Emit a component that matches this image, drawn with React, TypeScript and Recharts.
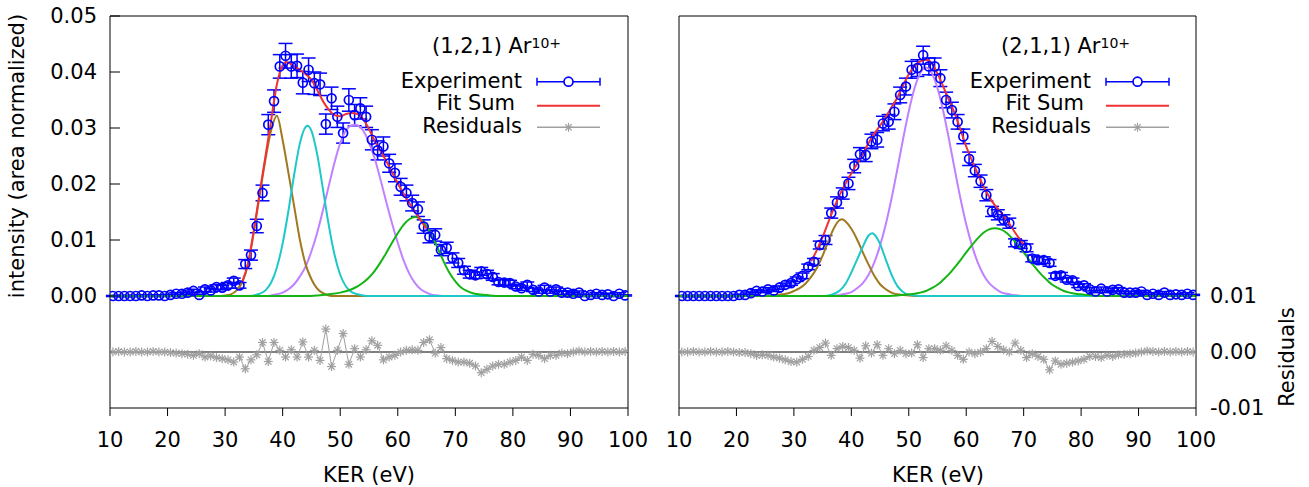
import { ComposedChart, Line, Scatter, ErrorBar, XAxis, YAxis, ReferenceLine } from "recharts";

const FONT = "'DejaVu Sans', sans-serif";

// KER bin centres (eV), shared by both panels
const kerBins = [
  10.5, 11.5, 12.5, 13.5, 14.5, 15.5, 16.5, 17.5, 18.5, 19.5,
  20.5, 21.5, 22.5, 23.5, 24.5, 25.5, 26.5, 27.5, 28.5, 29.5,
  30.5, 31.5, 32.5, 33.5, 34.5, 35.5, 36.5, 37.5, 38.5, 39.5,
  40.5, 41.5, 42.5, 43.5, 44.5, 45.5, 46.5, 47.5, 48.5, 49.5,
  50.5, 51.5, 52.5, 53.5, 54.5, 55.5, 56.5, 57.5, 58.5, 59.5,
  60.5, 61.5, 62.5, 63.5, 64.5, 65.5, 66.5, 67.5, 68.5, 69.5,
  70.5, 71.5, 72.5, 73.5, 74.5, 75.5, 76.5, 77.5, 78.5, 79.5,
  80.5, 81.5, 82.5, 83.5, 84.5, 85.5, 86.5, 87.5, 88.5, 89.5,
  90.5, 91.5, 92.5, 93.5, 94.5, 95.5, 96.5, 97.5, 98.5, 99.5,
];

const xTicks = [10, 20, 30, 40, 50, 60, 70, 80, 90, 100];
const yTicks = [0, 0.01, 0.02, 0.03, 0.04, 0.05];
const resTicks = [-0.01, 0, 0.01];

// ---- (1,2,1) panel ----
const exp121 = [
  0, 0, 0, 0, 0, 0.0001, 0, 0.0001, 0.0001, 0,
  0.0002, 0.0004, 0.0004, 0.0006, 0.0009, 0.0002, 0.0012, 0.001, 0.0016, 0.0015,
  0.0019, 0.0027, 0.0019, 0.0057, 0.0073, 0.0125, 0.0184, 0.0306, 0.0348, 0.041,
  0.0429, 0.041, 0.0411, 0.0381, 0.0404, 0.038, 0.0378, 0.0307, 0.0353, 0.032,
  0.0291, 0.035, 0.0323, 0.0335, 0.032, 0.0279, 0.026, 0.0267, 0.0237, 0.022,
  0.0195, 0.0184, 0.0166, 0.0155, 0.0124, 0.0106, 0.0109, 0.0082, 0.0086, 0.0068,
  0.0059, 0.0046, 0.0039, 0.0037, 0.0044, 0.0039, 0.0034, 0.0025, 0.0024, 0.0023,
  0.0017, 0.0014, 0.002, 0.0011, 0.0008, 0.0015, 0.0008, 0.0012, 0.0006, 0.0006,
  0.0004, 0.0006, 0, 0.0002, 0.0004, 0.0002, 0.0003, 0, 0.0004, 0.0001,
];
const err121 = [
  0.0001, 0.0001, 0.0001, 0.0001, 0.0001, 0.0001, 0.0001, 0.0001, 0.0001, 0.0001,
  0.0001, 0.0002, 0.0002, 0.0003, 0.0003, 0.0001, 0.0004, 0.0003, 0.0004, 0.0004,
  0.0005, 0.0005, 0.0005, 0.0008, 0.0009, 0.0012, 0.0014, 0.0018, 0.002, 0.0021,
  0.0022, 0.0021, 0.0021, 0.002, 0.0021, 0.002, 0.002, 0.0018, 0.002, 0.0019,
  0.0018, 0.002, 0.0019, 0.0019, 0.0019, 0.0018, 0.0017, 0.0017, 0.0016, 0.0016,
  0.0015, 0.0014, 0.0014, 0.0013, 0.0012, 0.0011, 0.0011, 0.001, 0.001, 0.0009,
  0.0008, 0.0007, 0.0007, 0.0006, 0.0007, 0.0007, 0.0006, 0.0005, 0.0005, 0.0005,
  0.0004, 0.0004, 0.0005, 0.0003, 0.0003, 0.0004, 0.0003, 0.0004, 0.0003, 0.0003,
  0.0002, 0.0003, 0.0001, 0.0001, 0.0002, 0.0001, 0.0002, 0.0001, 0.0002, 0.0001,
];
const res121 = [
  0, 0.0001, 0, 0, 0.0001, 0, 0, 0.0001, 0, 0,
  -0.0001, -0.0002, -0.0003, -0.0004, -0.0006, -0.0003, -0.0009, -0.0007, -0.001, -0.0012,
  -0.0014, -0.0018, -0.0009, -0.003, -0.0014, -0.0005, 0.0017, -0.0017, 0.0017, 0.0003,
  -0.0009, 0.0004, -0.0009, 0.0018, -0.0009, 0.0003, -0.0015, 0.0041, -0.0026, 0.0003,
  0.0033, -0.0022, 0.0006, -0.0009, 0.0004, 0.002, 0.0012, -0.0014, -0.0009, -0.0006,
  0, 0.0003, 0.0004, 0.0003, 0.0017, 0.0022, -0.0002, 0.0008, -0.0012, -0.0015,
  -0.0018, -0.0018, -0.002, -0.0025, -0.0037, -0.0031, -0.0025, -0.0022, -0.0022, -0.0018,
  -0.0015, -0.0009, -0.0015, -0.0004, -0.0006, -0.0012, -0.0006, -0.0006, -0.0002, -0.0003,
  0, 0.0002, 0, 0.0001, 0, 0.0001, 0, 0.0001, 0, 0.0001,
];
const fit121: [number, number][] = [
  [33, 0.0026], [34, 0.0059], [35, 0.0118], [36, 0.0184], [37, 0.0249], [38, 0.0314],
  [39, 0.0378], [40, 0.0412], [40.7, 0.0418], [41, 0.0417], [42, 0.041], [43, 0.0404],
  [44, 0.0396], [45, 0.0386], [46, 0.0368], [47, 0.0348], [48, 0.0333], [49, 0.0323],
  [50, 0.0321], [51, 0.0325], [52, 0.0327], [53, 0.0325], [54, 0.0316], [55, 0.0298],
  [56, 0.0277], [57, 0.0259], [58, 0.0241], [59, 0.0221], [60, 0.0201], [61, 0.0183],
  [62, 0.0166], [63, 0.015], [64, 0.0135], [65, 0.012],
];
const peakA121: [number, number][] = [
  [10, 0], [29, 0], [30, 0.0001], [31, 0.0003], [32, 0.001], [33, 0.0025], [34, 0.0058],
  [35, 0.0115], [36, 0.018], [37, 0.0243], [38, 0.0296], [39, 0.0322], [40, 0.0278],
  [41, 0.022], [42, 0.016], [43, 0.01], [44, 0.0056], [45, 0.003], [46, 0.0013],
  [47, 0.0005], [48, 0.0001], [49, 0], [100, 0],
];
const peakB121: [number, number][] = [
  [10, 0], [34, 0], [35, 0.0001], [36, 0.0004], [37, 0.001], [38, 0.0024], [39, 0.0051],
  [40, 0.0094], [41, 0.0152], [42, 0.0217], [43, 0.0273], [44, 0.0302], [44.3, 0.0304],
  [45, 0.0295], [46, 0.0253], [47, 0.0191], [48, 0.0127], [49, 0.0074], [50, 0.0038],
  [51, 0.0017], [52, 0.0007], [53, 0.0003], [54, 0.0001], [55, 0], [100, 0],
];
const peakC121: [number, number][] = [
  [10, 0], [37, 0], [38, 0.0001], [39, 0.0003], [40, 0.0006], [41, 0.0012], [42, 0.0021],
  [43, 0.0035], [44, 0.0053], [45, 0.008], [46, 0.0113], [47, 0.0153], [48, 0.0196],
  [49, 0.0238], [50, 0.0273], [51, 0.0296], [52, 0.0305], [52.7, 0.0306], [53, 0.0305],
  [54, 0.0295], [55, 0.0274], [56, 0.0245], [57, 0.0208], [58, 0.0168], [59, 0.013],
  [60, 0.0095], [61, 0.0064], [62, 0.004], [63, 0.0023], [64, 0.0012], [65, 0.0006],
  [66, 0.0002], [67, 0.0001], [68, 0], [100, 0],
];
const peakD121: [number, number][] = [
  [10, 0], [44, 0], [46, 0.0001], [48, 0.0003], [50, 0.0006], [52, 0.0012], [53, 0.0017],
  [54, 0.0024], [55, 0.0033], [56, 0.0045], [57, 0.006], [58, 0.0077], [59, 0.0095],
  [60, 0.0112], [61, 0.0127], [62, 0.0137], [63, 0.0141], [64, 0.0137], [65, 0.0125],
  [66, 0.0106], [67, 0.0084], [68, 0.0061], [69, 0.0041], [70, 0.0026], [71, 0.0015],
  [72, 0.0009], [73, 0.0005], [74, 0.0003], [75, 0.0002], [76, 0.0001], [78, 0], [100, 0],
];

// ---- (2,1,1) panel ----
const exp211 = [
  0, 0, 0, 0, 0, 0, 0, 0, 0, 0,
  0.0002, 0.0002, 0.0005, 0.0009, 0.0008, 0.0012, 0.001, 0.0015, 0.002, 0.0023,
  0.003, 0.0036, 0.0052, 0.0061, 0.0091, 0.01, 0.0148, 0.0167, 0.0183, 0.0201,
  0.0232, 0.0253, 0.0252, 0.0276, 0.0279, 0.0308, 0.0311, 0.0329, 0.0359, 0.0374,
  0.0404, 0.0407, 0.043, 0.041, 0.041, 0.0389, 0.035, 0.0332, 0.0311, 0.0285,
  0.0245, 0.0224, 0.0205, 0.018, 0.0151, 0.0145, 0.0136, 0.013, 0.0095, 0.0092,
  0.0086, 0.0067, 0.0064, 0.0064, 0.0059, 0.0036, 0.0037, 0.0029, 0.0028, 0.0018,
  0.0019, 0.0012, 0.0008, 0.0013, 0.0008, 0.0011, 0.0012, 0.0006, 0.0006, 0.0006,
  0.0008, 0.0002, 0.0004, 0.0002, 0.0006, 0.0002, 0.0003, 0.0002, 0.0004, 0.0002,
];
const err211 = [
  0.0001, 0.0001, 0.0001, 0.0001, 0.0001, 0.0001, 0.0001, 0.0001, 0.0001, 0.0001,
  0.0001, 0.0001, 0.0002, 0.0002, 0.0002, 0.0003, 0.0002, 0.0003, 0.0003, 0.0004,
  0.0004, 0.0005, 0.0005, 0.0006, 0.0007, 0.0008, 0.0009, 0.001, 0.001, 0.0011,
  0.0012, 0.0012, 0.0012, 0.0013, 0.0013, 0.0013, 0.0013, 0.0014, 0.0014, 0.0015,
  0.0015, 0.0015, 0.0016, 0.0015, 0.0015, 0.0015, 0.0014, 0.0014, 0.0013, 0.0013,
  0.0012, 0.0011, 0.0011, 0.001, 0.0009, 0.0009, 0.0009, 0.0009, 0.0007, 0.0007,
  0.0007, 0.0006, 0.0006, 0.0006, 0.0006, 0.0005, 0.0005, 0.0004, 0.0004, 0.0003,
  0.0003, 0.0003, 0.0002, 0.0003, 0.0002, 0.0003, 0.0003, 0.0002, 0.0002, 0.0002,
  0.0002, 0.0001, 0.0002, 0.0001, 0.0002, 0.0001, 0.0001, 0.0001, 0.0002, 0.0001,
];
const res211 = [
  0, 0, 0.0001, 0, 0, 0.0001, 0, 0, 0.0001, 0,
  -0.0001, -0.0001, -0.0003, -0.0006, -0.0005, -0.0006, -0.0009, -0.0011, -0.0014, -0.0017,
  -0.0018, -0.0013, -0.0008, 0.0003, 0.0008, 0.0016, -0.0006, 0.0006, 0.001, 0.0008,
  0.0003, -0.0011, 0.0011, -0.0002, 0.0013, -0.0006, 0.0006, -0.0003, 0.0003, -0.0003,
  -0.0002, 0.0013, -0.001, 0.0006, 0.0006, 0.0003, 0.0011, 0.0003, -0.0006, -0.0013,
  0, -0.0003, 0, 0.0006, 0.0019, 0.001, 0.0004, 0, 0.0016, 0.0003,
  -0.001, -0.0003, -0.0008, -0.0013, -0.0032, -0.0016, -0.0022, -0.002, -0.0018, -0.0016,
  -0.0013, -0.0008, -0.0008, -0.001, -0.0006, -0.0008, -0.0005, -0.0004, -0.0003, -0.0002,
  0, 0.0002, 0.0001, 0, 0.0001, 0, 0.0001, 0, 0.0001, 0,
];
const fit211: [number, number][] = [
  [33, 0.0062], [34, 0.0082], [35, 0.0105], [36, 0.0132], [37, 0.0158], [38, 0.0181],
  [39, 0.0201], [40, 0.0219], [41, 0.0236], [42, 0.0254], [43, 0.0273], [44, 0.029],
  [45, 0.0304], [46, 0.032], [47, 0.0337], [48, 0.0354], [49, 0.0376], [50, 0.0396],
  [51, 0.041], [52, 0.0419], [53, 0.0422], [54, 0.0416], [55, 0.0397], [56, 0.0374],
  [57, 0.035], [58, 0.0326], [59, 0.0297], [60, 0.0267], [61, 0.0242], [62, 0.0218],
  [63, 0.0196], [64, 0.0177], [65, 0.0162], [66, 0.015], [67, 0.0137], [68, 0.0121],
  [69, 0.0106], [70, 0.0092],
];
const peakA211: [number, number][] = [
  [10, 0], [25, 0], [26, 0.0001], [28, 0.0003], [29, 0.0005], [30, 0.0009], [31, 0.0014],
  [32, 0.0022], [33, 0.0034], [34, 0.005], [35, 0.0072], [36, 0.0098], [37, 0.0122],
  [38, 0.0136], [38.4, 0.0137], [39, 0.0133], [40, 0.012], [41, 0.0101], [42, 0.0078],
  [43, 0.0056], [44, 0.0036], [45, 0.0021], [46, 0.0012], [47, 0.0006], [48, 0.0003],
  [50, 0.0001], [52, 0], [100, 0],
];
const peakB211: [number, number][] = [
  [10, 0], [35, 0], [36, 0.0001], [37, 0.0004], [38, 0.001], [39, 0.0022], [40, 0.0042],
  [41, 0.0065], [42, 0.0088], [43, 0.0108], [43.6, 0.0112], [44, 0.011], [45, 0.0093],
  [46, 0.0065], [47, 0.0038], [48, 0.0018], [49, 0.0007], [50, 0.0002], [51, 0.0001],
  [52, 0], [100, 0],
];
const peakC211: [number, number][] = [
  [10, 0], [36, 0], [37, 0.0001], [38, 0.0002], [39, 0.0004], [40, 0.0007], [41, 0.0014],
  [42, 0.0023], [43, 0.0038], [44, 0.006], [45, 0.009], [46, 0.0128], [47, 0.0174],
  [48, 0.0226], [49, 0.028], [50, 0.033], [51, 0.0371], [52, 0.0398], [53, 0.0408],
  [54, 0.0398], [55, 0.0371], [56, 0.033], [57, 0.028], [58, 0.0226], [59, 0.0174],
  [60, 0.0128], [61, 0.009], [62, 0.006], [63, 0.0038], [64, 0.0023], [65, 0.0014],
  [66, 0.0007], [67, 0.0004], [68, 0.0002], [69, 0.0001], [70, 0], [100, 0],
];
const peakD211: [number, number][] = [
  [10, 0], [45, 0], [48, 0.0001], [49, 0.0002], [50, 0.0003], [51, 0.0004], [52, 0.0006],
  [53, 0.0009], [54, 0.0014], [55, 0.002], [56, 0.0029], [57, 0.0039], [58, 0.0051],
  [59, 0.0064], [60, 0.0078], [61, 0.0091], [62, 0.0103], [63, 0.0113], [64, 0.0119],
  [65, 0.0121], [66, 0.0119], [67, 0.0113], [68, 0.0103], [69, 0.0091], [70, 0.0078],
  [71, 0.0064], [72, 0.0051], [73, 0.0039], [74, 0.0029], [75, 0.002], [76, 0.0014],
  [77, 0.0009], [78, 0.0006], [79, 0.0004], [80, 0.0003], [81, 0.0002], [82, 0.0001],
  [84, 0], [100, 0],
];

const BLUE = "#0000ff";
const RED = "#f03232";
const GRAY = "#a0a0a0";
const BROWN = "#a0781e";
const CYAN = "#1ec8c8";
const PURPLE = "#c080ff";
const GREEN = "#14b414";

const tickStyle = { fill: "#000", fontSize: 21, fontFamily: FONT };

const OpenCircle = (p: any) =>
  p.cx == null ? <g /> : (
    <circle cx={p.cx} cy={p.cy} r={4.5} fill="none" stroke={BLUE} strokeWidth={1.7} />
  );

const Star = (p: any) => {
  const { cx, cy } = p;
  if (cx == null || cy == null) return <g />;
  const s = 4.5;
  const d = 3.2;
  return (
    <g stroke={GRAY} strokeWidth={1.2}>
      <line x1={cx - s} y1={cy} x2={cx + s} y2={cy} />
      <line x1={cx} y1={cy - s} x2={cx} y2={cy + s} />
      <line x1={cx - d} y1={cy - d} x2={cx + d} y2={cy + d} />
      <line x1={cx - d} y1={cy + d} x2={cx + d} y2={cy - d} />
    </g>
  );
};

const toRows = (pts: [number, number][]) => pts.map(([x, y]) => ({ x, y }));

type PanelProps = {
  left: number;
  width: number;
  mLeft: number;
  mRight: number;
  leftAxisW: number;
  resAxisW: number;
  exp: number[];
  err: number[];
  res: number[];
  fit: [number, number][];
  peaks: [number, number][][];
  leftLabels: boolean;
  rightLabels: boolean;
};

const peakColors = [PURPLE, BROWN, CYAN, GREEN];

const Panel = (props: PanelProps) => {
  const { left, width, mLeft, mRight, leftAxisW, resAxisW, exp, err, res, fit, peaks, leftLabels, rightLabels } =
    props;
  const expRows = kerBins.map((x, i) => ({ x, y: exp[i], err: err[i] }));
  const resRows = kerBins.map((x, i) => ({ x, y: res[i] }));
  // draw order: purple, brown, cyan, green (green baseline ends up on top)
  const ordered = [peaks[2], peaks[0], peaks[1], peaks[3]];

  return (
    <div style={{ position: "absolute", left, top: 0 }}>
      <ComposedChart
        width={width}
        height={487}
        margin={{ top: 6, right: mRight, bottom: 39, left: mLeft }}
      >
        <XAxis
          xAxisId="b"
          dataKey="x"
          type="number"
          domain={[10, 100]}
          ticks={xTicks}
          height={40}
          tickSize={8}
          tickMargin={16}
          allowDataOverflow
          stroke="#000"
          tick={tickStyle}
        />
        <XAxis
          xAxisId="t"
          orientation="top"
          dataKey="x"
          type="number"
          domain={[10, 100]}
          ticks={xTicks}
          height={10}
          tickSize={9}
          tick={false}
          allowDataOverflow
          stroke="#000"
        />
        <YAxis
          yAxisId="m"
          type="number"
          domain={[-0.02, 0.05]}
          ticks={yTicks}
          width={leftAxisW}
          tickSize={-10}
          tickMargin={23}
          tick={leftLabels ? tickStyle : false}
          tickFormatter={(v: number) => v.toFixed(2)}
          allowDataOverflow
          stroke="#000"
        />
        <YAxis
          yAxisId="m2"
          orientation="right"
          type="number"
          domain={[-0.02, 0.05]}
          ticks={yTicks}
          width={1}
          tickSize={-10}
          tick={false}
          allowDataOverflow
          stroke="#000"
        />
        <YAxis
          yAxisId="res"
          orientation="right"
          type="number"
          domain={[-0.01, 0.06]}
          ticks={resTicks}
          width={resAxisW}
          tickLine={false}
          axisLine={false}
          tickSize={0}
          tickMargin={13}
          tick={rightLabels ? tickStyle : false}
          tickFormatter={(v: number) => v.toFixed(2)}
          allowDataOverflow
        />
        <ReferenceLine xAxisId="b" yAxisId="res" y={0} stroke="#000" strokeWidth={1} />
        <Scatter
          xAxisId="b"
          yAxisId="m"
          data={expRows}
          dataKey="y"
          shape={OpenCircle}
          isAnimationActive={false}
        >
          <ErrorBar dataKey="err" direction="y" width={7} stroke={BLUE} strokeWidth={1.5} />
        </Scatter>
        <Line
          xAxisId="b"
          yAxisId="res"
          data={resRows}
          dataKey="y"
          type="linear"
          stroke={GRAY}
          strokeWidth={1}
          dot={(p: any) => <Star key={`st-${p.index}`} {...p} />}
          isAnimationActive={false}
        />
        {ordered.map((pk, i) => (
          <Line
            key={i}
            xAxisId="b"
            yAxisId="m"
            data={toRows(pk)}
            dataKey="y"
            type="monotone"
            stroke={peakColors[i]}
            strokeWidth={2}
            dot={false}
            isAnimationActive={false}
          />
        ))}
        <Line
          xAxisId="b"
          yAxisId="m"
          data={toRows(fit)}
          dataKey="y"
          type="monotone"
          stroke={RED}
          strokeWidth={2}
          dot={false}
          isAnimationActive={false}
        />
      </ComposedChart>
    </div>
  );
};

const txt: React.CSSProperties = {
  position: "absolute",
  fontFamily: FONT,
  fontSize: 21,
  lineHeight: "24px",
  color: "#000",
  whiteSpace: "nowrap",
};

const LegendBlock = ({ dx, title }: { dx: number; title: string }) => (
  <>
    <div style={{ ...txt, left: 432 + dx, top: 34 }}>
      {title} Ar<span style={{ fontSize: 14, position: "relative", top: -5 }}>10+</span>
    </div>
    <div style={{ ...txt, left: 300 + dx, width: 222, textAlign: "right", top: 69 }}>Experiment</div>
    <div style={{ ...txt, left: 300 + dx, width: 215, textAlign: "right", top: 91 }}>Fit Sum</div>
    <div style={{ ...txt, left: 300 + dx, width: 222, textAlign: "right", top: 114 }}>Residuals</div>
    <svg style={{ position: "absolute", left: 530 + dx, top: 70 }} width={80} height={70}>
      <g stroke={BLUE} strokeWidth={1.5} fill="none">
        <line x1={7} y1={11.7} x2={70} y2={11.7} />
        <line x1={7} y1={7.7} x2={7} y2={15.7} />
        <line x1={70} y1={7.7} x2={70} y2={15.7} />
        <circle cx={38.5} cy={11.7} r={4.5} fill="#fff" strokeWidth={1.7} />
      </g>
      <line x1={7} y1={35.7} x2={70} y2={35.7} stroke={RED} strokeWidth={2} />
      <line x1={7} y1={57.3} x2={70} y2={57.3} stroke={GRAY} strokeWidth={1.5} />
      <Star cx={38.5} cy={57.3} />
    </svg>
  </>
);

const App = () => (
  <div
    style={{
      position: "absolute",
      left: 0,
      top: 0,
      width: 1309,
      height: 487,
      background: "#fff",
      fontFamily: FONT,
      overflow: "hidden",
    }}
  >
    <Panel
      left={0}
      width={654}
      mLeft={50}
      mRight={15}
      leftAxisW={60}
      resAxisW={10}
      exp={exp121}
      err={err121}
      res={res121}
      fit={fit121}
      peaks={[peakA121, peakB121, peakC121, peakD121]}
      leftLabels
      rightLabels={false}
    />
    <Panel
      left={654}
      width={655}
      mLeft={15}
      mRight={52}
      leftAxisW={10}
      resAxisW={60}
      exp={exp211}
      err={err211}
      res={res211}
      fit={fit211}
      peaks={[peakA211, peakB211, peakC211, peakD211]}
      leftLabels={false}
      rightLabels
    />
    <LegendBlock dx={0} title="(1,2,1)" />
    <LegendBlock dx={569} title="(2,1,1)" />
    <div
      style={{
        ...txt,
        left: 17 - 160,
        top: 156 - 12,
        width: 320,
        textAlign: "center",
        transform: "rotate(-90deg)",
      }}
    >
      intensity (area normalized)
    </div>
    <div
      style={{
        ...txt,
        left: 1287 - 60,
        top: 357 - 12,
        width: 120,
        textAlign: "center",
        transform: "rotate(-90deg)",
      }}
    >
      Residuals
    </div>
    <div style={{ ...txt, left: 369 - 80, top: 463, width: 160, textAlign: "center" }}>KER (eV)</div>
    <div style={{ ...txt, left: 938 - 80, top: 463, width: 160, textAlign: "center" }}>KER (eV)</div>
  </div>
);

export default App;
